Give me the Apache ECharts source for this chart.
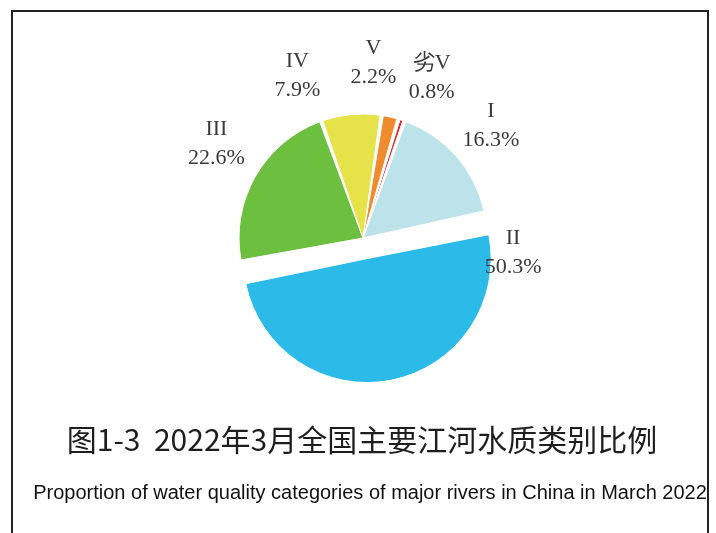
<!DOCTYPE html>
<html>
<head>
<meta charset="utf-8">
<script src="https://cdn.jsdelivr.net/npm/echarts@6/dist/echarts.min.js"></script>
<style>
html,body{margin:0;padding:0;background:#fff;}
#chart{width:716px;height:533px;}
</style>
</head>
<body>
<div id="chart"></div>
<script>
// Data
const categories = ['I', 'II', 'III', 'IV', 'V', '劣V'];
const values = [16.3, 50.3, 22.6, 7.9, 2.2, 0.8];
const colors = ['#bde3ea', '#2cbbe9', '#6cbf3f', '#e6e34a', '#ef8b2c', '#e52525'];
const titleText = '图1-3  2022年3月全国主要江河水质类别比例';
const subtitleText = 'Proportion of water quality categories of major rivers in China in March 2022';

// label nudges relative to the library's default outside placement (style only)
const labelShift = [[-43, -92], [84, -147], [12, -23], [-24, -19], [-49, -35], [-74, -80]];

const chart = echarts.init(document.getElementById('chart'), null, {renderer: 'canvas'});

const pieData = categories.map((c, i) => ({
  name: c,
  value: values[i],
  selected: c === 'II',
  itemStyle: {color: colors[i]}
}));

chart.setOption({
  backgroundColor: '#ffffff',
  animation: false,
  title: [{
    text: titleText,
    left: 357,
    textAlign: 'center',
    top: 420,
    textStyle: {
      fontFamily: '"Noto Sans CJK SC", sans-serif',
      fontSize: 30,
      fontWeight: 'normal',
      color: '#1e1e1e'
    }
  }, {
    text: subtitleText,
    left: 365,
    textAlign: 'center',
    top: 478,
    textStyle: {
      fontFamily: '"Liberation Sans Narrow", "Liberation Sans", sans-serif',
      fontSize: 20,
      fontWeight: 'normal',
      color: '#111111'
    }
  }],
  graphic: [{
    type: 'rect',
    shape: {x: 12, y: 11, width: 696, height: 540},
    style: {fill: 'none', stroke: '#222', lineWidth: 2},
    silent: true
  }],
  series: [{
    type: 'pie',
    center: [363, 238],
    radius: [0, 124],
    startAngle: 70.5,
    clockwise: true,
    padAngle: 1.5,
    selectedMode: 'single',
    selectedOffset: 21,
    itemStyle: {borderColor: '#fff', borderWidth: 1},
    label: {
      show: true,
      position: 'outside',
      formatter: p => p.name + '\n' + p.value.toFixed(1) + '%',
      fontFamily: '"Liberation Serif", "Times New Roman", serif',
      fontSize: 22,
      lineHeight: 29,
      color: '#3a3a3a'
    },
    labelLine: {show: false, length: 20, length2: 0},
    labelLayout: p => {
      const w = p.labelRect.width;
      const comp = p.align === 'left' ? w / 2 : (p.align === 'right' ? -w / 2 : 0);
      return {
        dx: comp + labelShift[p.dataIndex][0],
        dy: labelShift[p.dataIndex][1],
        align: 'center'
      };
    },
    emphasis: {disabled: true},
    data: pieData
  }]
});
</script>
</body>
</html>
